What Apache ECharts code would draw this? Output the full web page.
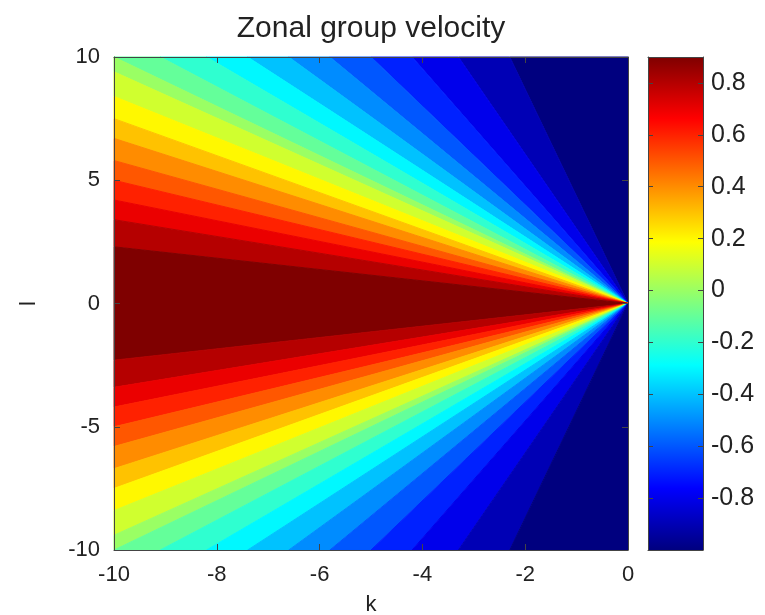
<!DOCTYPE html>
<html>
<head>
<meta charset="utf-8">
<title>Zonal group velocity</title>
<script src="https://cdn.jsdelivr.net/npm/echarts@6/dist/echarts.min.js"></script>
<style>
  html, body { margin: 0; padding: 0; background: #fff; }
  #chart { width: 765px; height: 615px; }
</style>
</head>
<body>
<div id="chart"></div>
<script>
// contour levels, each band takes the colour of its lower level
const levels = [-1, -0.9, -0.8, -0.7, -0.6, -0.5, -0.4, -0.3, -0.2, -0.1, 0, 0.1, 0.2, 0.3, 0.4, 0.5, 0.6, 0.7, 0.8, 0.9];
// k where contours -0.9 .. -0.1 hit the top edge (l = 10)
const topEdgeK = [-2.3, -3.3, -4.2, -5.0, -5.8, -6.6, -7.4, -8.2, -9.1];
// l where contours 0.1 .. 0.9 hit the left edge (k = -10)
const leftEdgeL = [9.4, 8.4, 7.5, 6.7, 5.8, 5.0, 4.2, 3.4, 2.3];
// same contours in the lower half (l < 0)
const leftEdgeLneg = [-2.3, -3.4, -4.2, -5.0, -5.8, -6.7, -7.5, -8.4, -9.4];
const bottomEdgeK = [-9.1, -8.2, -7.4, -6.6, -5.8, -5.0, -4.2, -3.3, -2.3];
// the rays all meet here
const origin = [0, 0];

const kTicks = [-10, -8, -6, -4, -2, 0];
const lTicks = [-10, -5, 0, 5, 10];
const cbarTicks = [-0.8, -0.6, -0.4, -0.2, 0, 0.2, 0.4, 0.6, 0.8];

// jet colormap
const jet = ['#00007f', '#0000ff', '#007fff', '#00ffff', '#7fff7f', '#ffff00', '#ff7f00', '#ff0000', '#7f0000'];

const kMin = kTicks[0], kMax = kTicks[kTicks.length - 1];
const lMin = lTicks[0], lMax = lTicks[lTicks.length - 1];

// walk round the edge of the plot: top-right corner -> top -> left -> bottom -> bottom-right corner
const path = [[kMax, lMax]]
  .concat(topEdgeK.map(k => [k, lMax]))
  .concat([[kMin, lMax]])
  .concat(leftEdgeL.map(l => [kMin, l]))
  .concat(leftEdgeLneg.map(l => [kMin, l]))
  .concat([[kMin, lMin]])
  .concat(bottomEdgeK.map(k => [k, lMin]))
  .concat([[kMax, lMin]]);

const bandValues = levels.concat(levels.slice(0, -1).reverse());
const bands = bandValues.map((v, i) => [v, i]);

const axisColor = '#444';
const textStyle = { fontFamily: 'Liberation Sans', fontSize: 22, color: '#222' };
const line = { onZero: false, lineStyle: { color: axisColor } };

const myChart = echarts.init(document.getElementById('chart'));
myChart.setOption({
  animation: false,
  title: {
    text: 'Zonal group velocity',
    left: 366,
    top: 9,
    textAlign: 'center',
    textStyle: { fontFamily: 'Liberation Sans', fontSize: 30, fontWeight: 'normal', color: '#222' },
  },
  grid: [
    { left: 114, right: 137, top: 57, bottom: 65, outerBoundsMode: 'none' },
    { left: 648, width: 55, top: 57, bottom: 65, outerBoundsMode: 'none' },
  ],
  visualMap: {
    show: false,
    type: 'continuous',
    seriesIndex: 0,
    dimension: 0,
    min: levels[0],
    max: levels[levels.length - 1],
    inRange: { color: jet },
  },
  xAxis: [
    {
      gridIndex: 0, type: 'value', position: 'bottom', z: 10,
      min: kMin, max: kMax, interval: kTicks[1] - kTicks[0],
      axisLine: line,
      axisTick: { inside: true, length: 6, lineStyle: { color: axisColor } },
      axisLabel: Object.assign({ margin: 14 }, textStyle),
      splitLine: { show: false },
      name: 'k', nameLocation: 'middle', nameGap: 44, nameTextStyle: textStyle,
    },
    {
      gridIndex: 0, type: 'value', position: 'top', z: 10,
      min: kMin, max: kMax, interval: kTicks[1] - kTicks[0],
      axisLine: line,
      axisTick: { inside: true, length: 6, lineStyle: { color: axisColor } },
      axisLabel: { show: false },
      splitLine: { show: false },
    },
    {
      gridIndex: 1, type: 'value', position: 'bottom', z: 10, min: 0, max: 1,
      axisLine: line,
      axisTick: { show: false }, axisLabel: { show: false }, splitLine: { show: false },
    },
    {
      gridIndex: 1, type: 'value', position: 'top', z: 10, min: 0, max: 1,
      axisLine: line,
      axisTick: { show: false }, axisLabel: { show: false }, splitLine: { show: false },
    },
  ],
  yAxis: [
    {
      gridIndex: 0, type: 'value', position: 'left', z: 10,
      min: lMin, max: lMax, interval: lTicks[1] - lTicks[0],
      axisLine: line,
      axisTick: { inside: true, length: 6, lineStyle: { color: axisColor } },
      axisLabel: Object.assign({ margin: 14 }, textStyle),
      splitLine: { show: false },
      name: 'l', nameLocation: 'middle', nameGap: 74, nameTextStyle: textStyle,
    },
    {
      gridIndex: 0, type: 'value', position: 'right', z: 10,
      min: lMin, max: lMax, interval: lTicks[1] - lTicks[0],
      axisLine: line,
      axisTick: { inside: true, length: 6, lineStyle: { color: axisColor } },
      axisLabel: { show: false },
      splitLine: { show: false },
    },
    {
      gridIndex: 1, type: 'value', position: 'right', z: 10,
      min: levels[0], max: levels[levels.length - 1],
      axisLine: line,
      axisTick: { inside: true, length: 5, customValues: cbarTicks, lineStyle: { color: axisColor } },
      axisLabel: Object.assign({}, textStyle, {
        margin: 8,
        fontSize: 25,
        customValues: cbarTicks,
        formatter: v => String(v),
      }),
      splitLine: { show: false },
    },
    {
      gridIndex: 1, type: 'value', position: 'left', z: 10,
      min: levels[0], max: levels[levels.length - 1],
      axisLine: line,
      axisTick: { inside: true, length: 5, customValues: cbarTicks, lineStyle: { color: axisColor } },
      axisLabel: { show: false },
      splitLine: { show: false },
    },
  ],
  series: [
    {
      type: 'custom',
      xAxisIndex: 0,
      yAxisIndex: 0,
      data: bands,
      renderItem: (params, api) => {
        const i = api.value(1);
        const pts = [origin, path[i], path[i + 1]].map(p => api.coord(p));
        const c = api.visual('color');
        return {
          type: 'polygon',
          shape: { points: pts },
          style: { fill: c, stroke: c, lineWidth: 1 },
        };
      },
    },
    {
      type: 'custom',
      xAxisIndex: 2,
      yAxisIndex: 2,
      data: [[0, levels[0]]],
      renderItem: (params, api) => {
        const p0 = api.coord([0, levels[levels.length - 1]]);
        const p1 = api.coord([1, levels[0]]);
        return {
          type: 'rect',
          shape: { x: p0[0], y: p0[1], width: p1[0] - p0[0], height: p1[1] - p0[1] },
          style: {
            fill: new echarts.graphic.LinearGradient(0, 0, 0, 1,
              jet.slice().reverse().map((c, j) => ({ offset: j / (jet.length - 1), color: c }))),
          },
        };
      },
    },
  ],
});
</script>
</body>
</html>
